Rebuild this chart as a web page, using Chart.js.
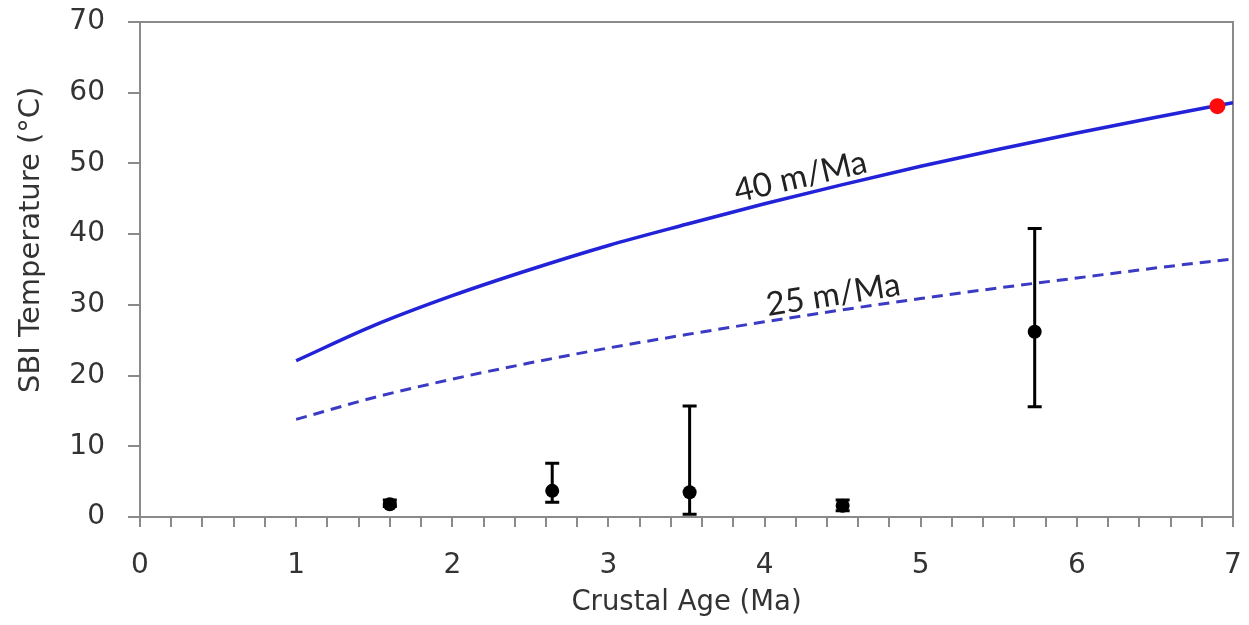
<!DOCTYPE html>
<html>
<head>
<meta charset="utf-8">
<script src="https://cdn.jsdelivr.net/npm/chart.js@4.4.1/dist/chart.umd.min.js"></script>
<style>
  html, body { margin: 0; padding: 0; background: #ffffff; }
  #wrap { width: 1249px; height: 625px; }
</style>
</head>
<body>
<div id="wrap"><canvas id="c" width="1249" height="625"></canvas></div>
<script>
// Crustal age grid (Ma) for the two model curves
const ageGrid = [1, 1.5, 2, 2.5, 3, 3.5, 4, 4.5, 5, 5.5, 6, 6.5, 7];
// Model SBI temperature (°C) for a 40 m/Ma sedimentation rate
const temp40 = [22.1, 27.1, 31.3, 35.0, 38.4, 41.4, 44.3, 47.0, 49.6, 52.0, 54.3, 56.5, 58.6];
// Model SBI temperature (°C) for a 25 m/Ma sedimentation rate
const temp25 = [13.8, 16.9, 19.5, 21.8, 23.9, 25.8, 27.6, 29.3, 30.9, 32.4, 33.8, 35.2, 36.5];

// Observed sites: age, temperature and error range
const obsAge  = [1.60, 2.64, 3.52, 4.50, 5.73];
const obsTemp = [1.8, 3.7, 3.5, 1.6, 26.2];
const obsLow  = [1.5, 2.1, 0.4, 0.9, 15.6];
const obsHigh = [2.4, 7.6, 15.7, 2.4, 40.8];

// Reference site on the 40 m/Ma curve
const refAge  = [6.90];
const refTemp = [58.1];

// Curve labels, anchored in data coordinates
const curveLabels = ['40 m/Ma', '25 m/Ma'];
const curveLabelAge = [4.23, 4.44];
const curveLabelTemp = [48.1, 31.4];

// Axis ranges and titles
const xTicksMajor = [0, 1, 2, 3, 4, 5, 6, 7];
const yTicks = [0, 10, 20, 30, 40, 50, 60, 70];
const xTitle = 'Crustal Age (Ma)';
const yTitle = 'SBI Temperature (°C)';

const toPts = (xs, ys) => xs.map((x, i) => ({ x: x, y: ys[i] }));

const AXIS_GREY = '#8a8a8a';
const TEXT_GREY = '#333333';

// Closes the plot box on its top and right sides
const framePlugin = {
  id: 'frame',
  beforeDatasetsDraw(chart) {
    const { ctx, chartArea: a } = chart;
    ctx.save();
    ctx.strokeStyle = AXIS_GREY;
    ctx.lineWidth = 2;
    ctx.beginPath();
    ctx.moveTo(a.left, a.top);
    ctx.lineTo(a.right, a.top);
    ctx.lineTo(a.right, a.bottom);
    ctx.stroke();
    ctx.restore();
  }
};

// Vertical error bars with caps for the observation dataset
const errorBarPlugin = {
  id: 'errorBars',
  afterDatasetsDraw(chart) {
    const { ctx } = chart;
    const ys = chart.scales.y;
    const meta = chart.getDatasetMeta(2);
    ctx.save();
    ctx.strokeStyle = '#000000';
    ctx.lineWidth = 3;
    const cap = 7;
    meta.data.forEach((pt, i) => {
      const px = pt.x;
      const lo = ys.getPixelForValue(obsLow[i]);
      const hi = ys.getPixelForValue(obsHigh[i]);
      ctx.beginPath();
      ctx.moveTo(px, lo);
      ctx.lineTo(px, hi);
      ctx.moveTo(px - cap, lo);
      ctx.lineTo(px + cap, lo);
      ctx.moveTo(px - cap, hi);
      ctx.lineTo(px + cap, hi);
      ctx.stroke();
    });
    ctx.restore();
  }
};

// Rotated text labels along the two curves
const curveLabelPlugin = {
  id: 'curveLabels',
  afterDatasetsDraw(chart) {
    const { ctx } = chart;
    const xs = chart.scales.x, ys = chart.scales.y;
    const angles = [-13, -9];
    ctx.save();
    ctx.fillStyle = '#222222';
    ctx.font = '33px Lato';
    ctx.textAlign = 'center';
    ctx.textBaseline = 'middle';
    curveLabels.forEach((txt, i) => {
      const px = xs.getPixelForValue(curveLabelAge[i]);
      const py = ys.getPixelForValue(curveLabelTemp[i]);
      ctx.save();
      ctx.translate(px, py);
      ctx.rotate(angles[i] * Math.PI / 180);
      ctx.fillText(txt, 0, 0);
      ctx.restore();
    });
    ctx.restore();
  }
};

// Vertical axis title, set a little above the middle of the axis
const yTitlePlugin = {
  id: 'yTitle',
  afterDraw(chart) {
    const { ctx, chartArea: a } = chart;
    ctx.save();
    ctx.fillStyle = TEXT_GREY;
    ctx.font = '29px "DejaVu Sans"';
    ctx.textAlign = 'center';
    ctx.textBaseline = 'middle';
    ctx.translate(31, a.top + (a.bottom - a.top) * 0.44);
    ctx.rotate(-Math.PI / 2);
    ctx.fillText(yTitle, 0, 0);
    ctx.restore();
  }
};

const isWhole = v => Math.abs(v - Math.round(v)) < 1e-6;

new Chart(document.getElementById('c'), {
  type: 'scatter',
  data: {
    datasets: [
      {
        label: curveLabels[0],
        data: toPts(ageGrid, temp40),
        showLine: true,
        borderColor: '#2222d8',
        borderWidth: 3.5,
        pointRadius: 0,
        cubicInterpolationMode: 'monotone',
        order: 3
      },
      {
        label: curveLabels[1],
        data: toPts(ageGrid, temp25),
        showLine: true,
        borderColor: '#3a3ac4',
        borderWidth: 3,
        borderDash: [11, 7],
        pointRadius: 0,
        cubicInterpolationMode: 'monotone',
        order: 2
      },
      {
        label: 'Observed',
        data: toPts(obsAge, obsTemp),
        showLine: false,
        pointRadius: 7,
        pointBackgroundColor: '#000000',
        pointBorderColor: '#000000',
        pointBorderWidth: 0,
        order: 1
      },
      {
        label: 'Reference',
        data: toPts(refAge, refTemp),
        showLine: false,
        pointRadius: 8,
        pointBackgroundColor: '#ff0a0a',
        pointBorderColor: '#ff0a0a',
        pointBorderWidth: 0,
        order: 0
      }
    ]
  },
  options: {
    responsive: false,
    animation: false,
    devicePixelRatio: 1,
    layout: { padding: { top: 22, right: 16, left: 0, bottom: 0 } },
    plugins: {
      legend: { display: false },
      tooltip: { enabled: false }
    },
    scales: {
      x: {
        type: 'linear',
        min: xTicksMajor[0],
        max: xTicksMajor[xTicksMajor.length - 1],
        afterFit(scale) {
          scale.height = 108;
          scale.paddingLeft = 0;
          scale.paddingRight = 0;
        },
        ticks: {
          stepSize: 0.2,
          autoSkip: false,
          maxRotation: 0,
          padding: 22,
          color: TEXT_GREY,
          font: { family: '"DejaVu Sans"', size: 28 },
          callback: v => (isWhole(v) ? String(Math.round(v)) : '')
        },
        grid: {
          drawOnChartArea: false,
          drawTicks: true,
          tickLength: 10,
          color: AXIS_GREY,
          lineWidth: 2
        },
        border: { display: true, color: AXIS_GREY, width: 2 },
        title: {
          display: true,
          text: xTitle,
          color: TEXT_GREY,
          font: { family: '"DejaVu Sans"', size: 27.5 },
          padding: { top: 0, bottom: 6 }
        }
      },
      y: {
        type: 'linear',
        min: yTicks[0],
        max: yTicks[yTicks.length - 1],
        afterFit(scale) {
          scale.width = 140;
          scale.paddingTop = 0;
          scale.paddingBottom = 0;
        },
        ticks: {
          stepSize: 10,
          padding: 23,
          color: TEXT_GREY,
          font: { family: '"DejaVu Sans"', size: 28 }
        },
        grid: {
          drawOnChartArea: false,
          drawTicks: true,
          tickLength: 12,
          color: AXIS_GREY,
          lineWidth: 2
        },
        border: { display: true, color: AXIS_GREY, width: 2 },
        title: { display: false }
      }
    }
  },
  plugins: [framePlugin, errorBarPlugin, curveLabelPlugin, yTitlePlugin]
});
</script>
</body>
</html>
